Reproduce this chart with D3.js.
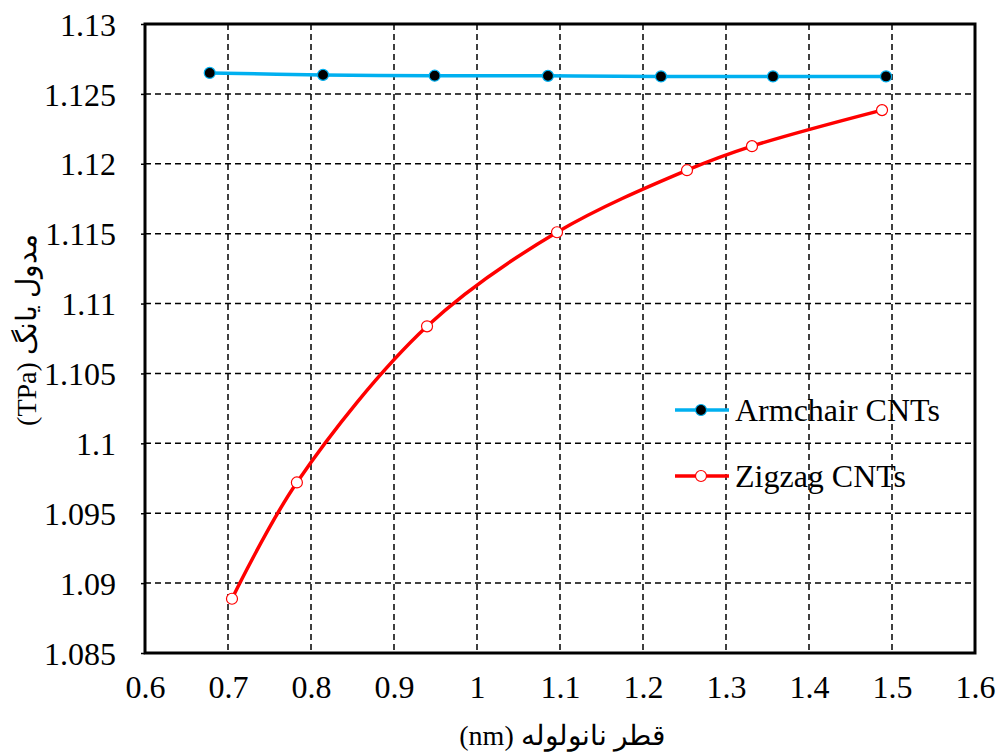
<!DOCTYPE html>
<html>
<head>
<meta charset="utf-8">
<script src="https://cdn.jsdelivr.net/npm/d3@7"></script>
<style>
  body { margin: 0; background: #fff; }
  svg text { font-family: "Liberation Serif", "DejaVu Serif", serif; fill: #000; }
</style>
</head>
<body>
<div id="chart"></div>
<script>
var width = 1000;
var height = 754;

// data
var armchairX = [0.678, 0.8145, 0.949, 1.0855, 1.2217, 1.3566, 1.4928];
var armchairY = [1.12650, 1.12636, 1.12630, 1.12629, 1.12625, 1.12625, 1.12625];
var zigzagX = [0.7048, 0.783, 0.9398, 1.0964, 1.253, 1.3313, 1.488];
var zigzagY = [1.08888, 1.0972, 1.10837, 1.1151, 1.11954, 1.12126, 1.12384];
var xTicks = [0.6, 0.7, 0.8, 0.9, 1, 1.1, 1.2, 1.3, 1.4, 1.5, 1.6];
var yTicks = [1.085, 1.09, 1.095, 1.1, 1.105, 1.11, 1.115, 1.12, 1.125, 1.13];
var seriesNames = ['Armchair CNTs', 'Zigzag CNTs'];

var plotLeft = 145, plotRight = 975, plotTop = 24, plotBottom = 653;

var svg = d3.select('#chart')
  .append('svg')
  .attr('width', width)
  .attr('height', height)
  .style('background-color', '#fff');

var x = d3.scaleLinear().domain([0.6, 1.6]).range([plotLeft, plotRight]);
var y = d3.scaleLinear().domain([1.085, 1.13]).range([plotBottom, plotTop]);

// grid
svg.append('g')
  .selectAll('line')
  .data(xTicks.slice(1, -1))
  .enter().append('line')
  .attr('x1', function(d) { return x(d); })
  .attr('x2', function(d) { return x(d); })
  .attr('y1', plotTop).attr('y2', plotBottom)
  .attr('stroke', '#000').attr('stroke-width', 1.5)
  .attr('stroke-dasharray', '6,4');

svg.append('g')
  .selectAll('line')
  .data(yTicks.slice(1, -1))
  .enter().append('line')
  .attr('y1', function(d) { return y(d); })
  .attr('y2', function(d) { return y(d); })
  .attr('x1', plotLeft).attr('x2', plotRight)
  .attr('stroke', '#000').attr('stroke-width', 1.5)
  .attr('stroke-dasharray', '6,4');

// axes
var yAxis = d3.axisLeft(y).tickValues(yTicks).tickSize(4).tickPadding(25)
  .tickFormat(function(d) { return String(+d.toFixed(3)); });
var yg = svg.append('g').attr('transform', 'translate(' + plotLeft + ',0)').call(yAxis);
yg.select('.domain').remove();
yg.selectAll('text').style('font-size', '32px').attr('dy', '0.35em')
  .style('font-family', '"Liberation Serif", serif');
yg.selectAll('line').attr('stroke', '#000').attr('stroke-width', 1.5);

var xAxis = d3.axisBottom(x).tickValues(xTicks).tickSize(0).tickPadding(22)
  .tickFormat(function(d) { return String(+d.toFixed(1)); });
var xg = svg.append('g').attr('transform', 'translate(0,' + plotBottom + ')').call(xAxis);
xg.select('.domain').remove();
xg.selectAll('text').style('font-size', '32px')
  .style('font-family', '"Liberation Serif", serif');

// frame
svg.append('rect')
  .attr('x', plotLeft).attr('y', plotTop)
  .attr('width', plotRight - plotLeft).attr('height', plotBottom - plotTop)
  .attr('fill', 'none').attr('stroke', '#000').attr('stroke-width', 3);

// lines
var armData = armchairX.map(function(v, i) { return [v, armchairY[i]]; });
var zigData = zigzagX.map(function(v, i) { return [v, zigzagY[i]]; });

var line = d3.line()
  .x(function(d) { return x(d[0]); })
  .y(function(d) { return y(d[1]); })
  .curve(d3.curveCatmullRom.alpha(0.5));

svg.append('path').datum(armData)
  .attr('fill', 'none').attr('stroke', '#00b0f0').attr('stroke-width', 3.5)
  .attr('d', line);
svg.append('path').datum(zigData)
  .attr('fill', 'none').attr('stroke', '#ff0000').attr('stroke-width', 3.5)
  .attr('d', line);

svg.selectAll('.dotA').data(armData).enter().append('circle')
  .attr('cx', function(d) { return x(d[0]); })
  .attr('cy', function(d) { return y(d[1]); })
  .attr('r', 5.5).attr('fill', '#000').attr('stroke', '#00b0f0').attr('stroke-width', 1.2);

svg.selectAll('.dotZ').data(zigData).enter().append('circle')
  .attr('cx', function(d) { return x(d[0]); })
  .attr('cy', function(d) { return y(d[1]); })
  .attr('r', 5.5).attr('fill', '#fff').attr('stroke', '#ff0000').attr('stroke-width', 1.2);

// legend
var legend = [
  { name: seriesNames[0], color: '#00b0f0', fill: '#000', y: 410 },
  { name: seriesNames[1], color: '#ff0000', fill: '#fff', y: 476 }
];
legend.forEach(function(l) {
  svg.append('line').attr('x1', 675).attr('x2', 729).attr('y1', l.y).attr('y2', l.y)
    .attr('stroke', l.color).attr('stroke-width', 3.5);
  svg.append('circle').attr('cx', 701).attr('cy', l.y).attr('r', 5.5)
    .attr('fill', l.fill).attr('stroke', l.color).attr('stroke-width', 1.2);
  svg.append('text').attr('x', 735).attr('y', l.y + 11)
    .style('font-size', '32px').text(l.name);
});

// axis titles
svg.append('text')
  .attr('transform', 'translate(36,' + 330 + ') rotate(-90)')
  .attr('text-anchor', 'middle')
  .style('font-size', '28px')
  .text('(TPa) مدول یانگ');

svg.append('text')
  .attr('x', 562).attr('y', 745)
  .attr('text-anchor', 'middle')
  .style('font-size', '28px')
  .text('(nm) قطر نانولوله');
</script>
</body>
</html>
